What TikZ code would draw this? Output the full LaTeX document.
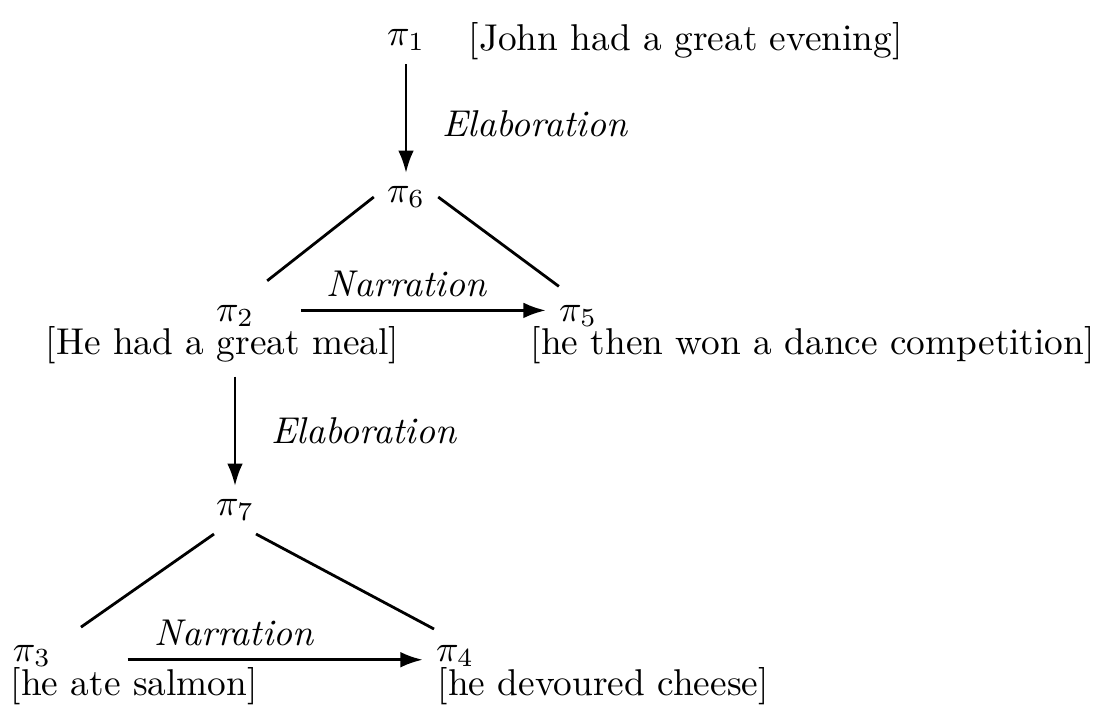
\documentclass[tikz,border=0pt]{standalone}
\usepackage{tikz}
\usetikzlibrary{arrows.meta, positioning, calc}

\begin{document}
\begin{tikzpicture}[x=0.268pt, y=-0.268pt,
  relarrow/.style={-{Latex[length=6pt,width=4.2pt]}, line width=0.75pt},
  treeline/.style={line width=0.75pt},
  relname/.style={font=\itshape},
  segtext/.style={anchor=base west, inner xsep=0pt}]
\useasboundingbox (0,0) rectangle (1105,718);

% segments
\node (p1) at (406,40) {$\pi_1$};
\node[segtext] (t1) at (468,50) {[John had a great evening]};
\node (p6) at (406,197) {$\pi_6$};
\node (p2) at (235,316) {$\pi_2$};
\node[segtext] (t2) at (45,354) {[He had a great meal]};
\node (p5) at (578,316) {$\pi_5$};
\node[segtext] (t5) at (530,354) {[he then won a dance competition]};
\node (p7) at (235,510) {$\pi_7$};
\node (p3) at (32,656) {$\pi_3$};
\node[segtext] (t3) at (10,695) {[he ate salmon]};
\node (p4) at (455,656) {$\pi_4$};
\node[segtext] (t4) at (437,695) {[he devoured cheese]};

% relations
\draw[relarrow] (p1) -- (p6) node[pos=0.55, right=6pt, relname] {Elaboration};
\draw[treeline] (p6.west) -- ([yshift=3pt]p2.north east);
\draw[treeline] (p6.east) -- ([xshift=3.5pt, yshift=1.5pt]p5.north west);
\draw[relarrow, shorten <=9pt] ([yshift=1.5pt]p2.east) -- ([yshift=1.5pt]p5.west)
  node[midway, above, relname] {Narration};

\draw[relarrow] (p2 |- t2.south) -- (p7) node[midway, right=6pt, relname] {Elaboration};
\draw[treeline] ([xshift=3pt]p7.south west) -- ([xshift=4.5pt, yshift=1.3pt]p3.north east);
\draw[treeline] ([xshift=-3pt]p7.south east) -- ([xshift=3pt, yshift=0.8pt]p4.north west);
\draw[relarrow, shorten <=17pt] ([yshift=-1pt]p3.east) -- ([yshift=-1pt]p4.west)
  node[midway, above, xshift=-2.5pt, relname] {Narration};
\end{tikzpicture}
\end{document}
